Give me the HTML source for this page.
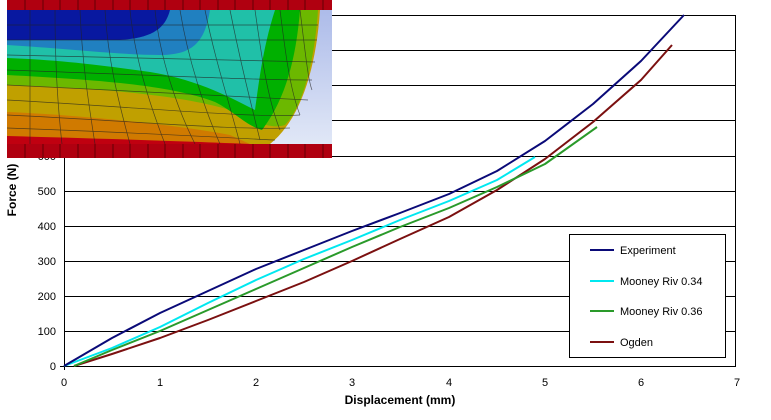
<!DOCTYPE html>
<html><head><style>body{margin:0;background:#fff;width:771px;height:415px;overflow:hidden;font-family:"Liberation Sans",Arial,sans-serif}</style></head><body>
<svg width="771" height="415" viewBox="0 0 771 415" xmlns="http://www.w3.org/2000/svg" font-family="Liberation Sans, Arial, sans-serif">
<defs>
<linearGradient id="bg" x1="0" y1="0" x2="0" y2="1"><stop offset="0" stop-color="#a9b8e8"/><stop offset="1" stop-color="#e6ecf8"/></linearGradient>
</defs>
<g stroke="#000" stroke-width="1">
<line x1="64" y1="15.5" x2="736" y2="15.5"/><line x1="64" y1="50.5" x2="736" y2="50.5"/><line x1="64" y1="85.5" x2="736" y2="85.5"/><line x1="64" y1="120.5" x2="736" y2="120.5"/><line x1="64" y1="156.5" x2="736" y2="156.5"/><line x1="64" y1="191.5" x2="736" y2="191.5"/><line x1="64" y1="226.5" x2="736" y2="226.5"/><line x1="64" y1="261.5" x2="736" y2="261.5"/><line x1="64" y1="296.5" x2="736" y2="296.5"/><line x1="64" y1="331.5" x2="736" y2="331.5"/>
<line x1="64.5" y1="15" x2="64.5" y2="370"/><line x1="60" y1="366.5" x2="736" y2="366.5"/>
<line x1="735.5" y1="15" x2="735.5" y2="366"/>
</g>
<g font-size="11" text-anchor="end" fill="#000">
<text x="56" y="370">0</text><text x="56" y="335">100</text><text x="56" y="300">200</text><text x="56" y="265">300</text><text x="56" y="230">400</text><text x="56" y="195">500</text><text x="56" y="160">600</text>
</g>
<g font-size="11" text-anchor="middle">
<text x="64" y="386">0</text><text x="160" y="386">1</text><text x="256" y="386">2</text><text x="352" y="386">3</text><text x="449" y="386">4</text><text x="545" y="386">5</text><text x="641" y="386">6</text><text x="737" y="386">7</text>
</g>
<text x="400" y="404" font-size="12" font-weight="bold" text-anchor="middle">Displacement (mm)</text>
<text transform="translate(16,190) rotate(-90)" font-size="12" font-weight="bold" text-anchor="middle">Force (N)</text>
<g fill="none" stroke-width="2" stroke-linejoin="round">
<polyline stroke="#7b1010" points="74,366 112,354 160,338 208,320 256,301 304,282 352,261 400,239 449,217 497,190 545,159 593,122 641,80 672,45"/>
<polyline stroke="#2a9a2a" points="74,366 112,350 160,331 208,310 256,289 304,268 352,247 400,227 449,208 497,187 545,164 597,127"/>
<polyline stroke="#00e8f0" points="64,366 112,348 160,327 208,303 256,280 304,259 352,240 400,220 449,201 497,180 535,157"/>
<polyline stroke="#0a0a78" points="64,366 112,338 160,313 208,291 256,269 304,250 352,231 400,213 449,194 497,171 545,141 593,104 641,61 684,15"/>
</g>
<rect x="569.5" y="234.5" width="156" height="123" fill="#fff" stroke="#000"/>
<g stroke-width="2">
<line x1="590" y1="250" x2="614" y2="250" stroke="#0a0a78"/>
<line x1="590" y1="281" x2="614" y2="281" stroke="#00e8f0"/>
<line x1="590" y1="311" x2="614" y2="311" stroke="#2a9a2a"/>
<line x1="590" y1="342" x2="614" y2="342" stroke="#7b1010"/>
</g>
<g font-size="11"><text x="620" y="254">Experiment</text><text x="620" y="285">Mooney Riv 0.34</text><text x="620" y="315">Mooney Riv 0.36</text><text x="620" y="346">Ogden</text></g>
<!-- inset -->
<rect x="7" y="0" width="325" height="158" fill="url(#bg)"/>
<path d="M7,10 L320,10 C316,70 300,120 270,144 L7,144 Z" fill="#c0a000"/>
<path d="M7,10 L318,10 C314,70 300,110 285,125 C270,130 250,120 230,110 C180,95 100,88 7,85 Z" fill="#6cb800"/>
<path d="M7,10 L300,10 C296,60 285,100 262,130 C245,125 235,112 215,102 C170,85 100,80 7,75 Z" fill="#00b000"/>
<path d="M7,10 L275,10 C262,50 258,90 255,110 C235,100 200,80 150,72 C100,65 60,60 7,58 Z" fill="#20c0a8"/>
<path d="M7,10 L210,10 C205,40 195,55 160,55 C120,55 60,48 7,45 Z" fill="#2080c0"/>
<path d="M7,10 L170,10 C165,30 150,38 120,40 L7,40 Z" fill="#0818a0"/>
<path d="M7,112 C80,115 180,125 230,135 L250,144 L7,144 Z" fill="#d07a00"/>
<path d="M7,136 C80,138 150,140 250,144 L7,144 Z" fill="#c00010"/>
<g stroke="#222" stroke-width="0.7" fill="none" opacity="0.7">
<path d="M7,25 H318 M7,40 H317 M7,55 C150,58 250,60 315 62 M7,70 C150,75 250,80 312,80 M7,85 C150,92 250,98 308,100 M7,100 C150,108 250,118 300,115 M7,115 C150,122 230,130 290,128 M7,128 C150,133 230,138 275,140"/>
<path d="M30,10 V144 M55,10 C55,60 57,100 62,144 M80,10 C82,60 88,100 95,144 M105,10 C108,60 118,100 130,144 M130,10 C135,60 150,105 165,144 M155,10 C160,60 178,110 195,144 M180,10 C188,60 205,110 220,144 M205,10 C215,60 230,105 240,144 M230,10 C240,60 250,100 260,140 M255,10 C262,60 268,100 280,130 M280,10 C285,50 290,90 300,115 M300,10 C305,50 308,80 312,90"/>
</g>
<rect x="7" y="0" width="325" height="10" fill="#b00010"/>
<rect x="7" y="144" width="325" height="14" fill="#b00010"/>
<g stroke="#400" stroke-width="0.7"><path d="M25,0V10M43,0V10M60,0V10M78,0V10M95,0V10M113,0V10M130,0V10M148,0V10M165,0V10M183,0V10M200,0V10M218,0V10M235,0V10M253,0V10M270,0V10M288,0V10M305,0V10M323,0V10 M25,144V158M43,144V158M60,144V158M78,144V158M95,144V158M113,144V158M130,144V158M148,144V158M165,144V158M183,144V158M200,144V158M218,144V158M235,144V158M253,144V158M270,144V158M288,144V158M305,144V158M323,144V158"/></g>
</svg>
</body></html>
